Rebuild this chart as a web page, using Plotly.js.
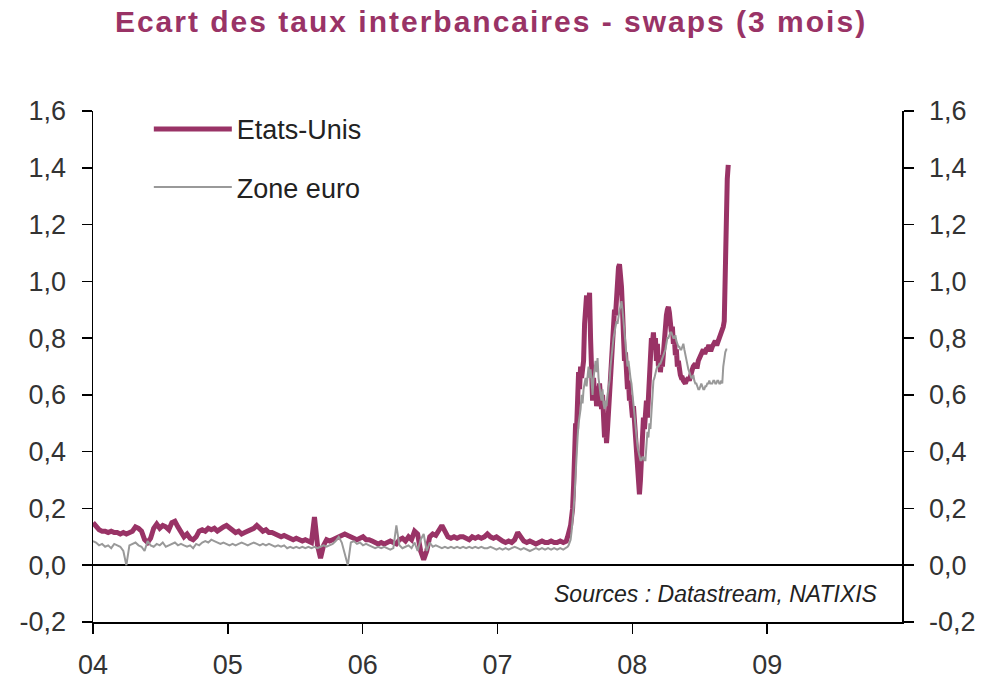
<!DOCTYPE html>
<html>
<head>
<meta charset="utf-8">
<script src="https://cdn.plot.ly/plotly-3.0.1.min.js"></script>
<style>html,body{margin:0;padding:0;background:#fff;}#chart{width:982px;height:686px;}
.gtitle{letter-spacing:2px;}</style>
</head>
<body>
<div id="chart"></div>
<script>
// Time index: weekly-ish sampling 2004 - mid-2007, then ~3-day sampling through the crisis
const segAStart = 2004.0, segAStep = 0.0225;
const segBStart = 2007.52, segBStep = 0.0074;

const xTickVals = [2004, 2005, 2006, 2007, 2008, 2009];
const xTickText = ['04', '05', '06', '07', '08', '09'];
const yTickVals = [-0.2, 0, 0.2, 0.4, 0.6, 0.8, 1.0, 1.2, 1.4, 1.6];
const yTickText = ['-0,2', '0,0', '0,2', '0,4', '0,6', '0,8', '1,0', '1,2', '1,4', '1,6'];

const seriesNames = ['Etats-Unis', 'Zone euro'];

// Etats-Unis, 2004.0 - 2007.51
const usA = [0.15,0.135,0.125,0.12,0.12,0.115,0.12,0.115,0.115,0.11,
0.115,0.11,0.115,0.12,0.135,0.13,0.12,0.09,0.08,0.095,
0.13,0.145,0.13,0.14,0.135,0.125,0.15,0.155,0.135,0.115,
0.10,0.11,0.095,0.09,0.10,0.12,0.125,0.12,0.13,0.125,
0.13,0.12,0.13,0.135,0.14,0.13,0.12,0.115,0.12,0.11,
0.115,0.12,0.125,0.13,0.14,0.13,0.12,0.125,0.115,0.115,
0.11,0.105,0.10,0.105,0.10,0.095,0.09,0.095,0.09,0.085,
0.09,0.085,0.08,0.17,0.07,0.025,0.07,0.09,0.085,0.09,
0.095,0.10,0.105,0.11,0.105,0.10,0.095,0.09,0.095,0.10,
0.09,0.09,0.085,0.08,0.075,0.08,0.075,0.08,0.085,0.08,
0.075,0.09,0.095,0.085,0.10,0.09,0.12,0.11,0.05,0.02,
0.05,0.10,0.11,0.105,0.125,0.14,0.12,0.10,0.095,0.10,
0.095,0.10,0.10,0.095,0.09,0.10,0.095,0.10,0.095,0.10,
0.11,0.10,0.095,0.10,0.09,0.085,0.08,0.085,0.08,0.09,
0.115,0.10,0.085,0.08,0.085,0.08,0.075,0.08,0.085,0.08,
0.08,0.085,0.08,0.08,0.085,0.08,0.085];

// Etats-Unis, 2007.52 onwards
const usB = [0.10,0.11,0.12,0.14,0.17,0.20,0.28,0.35,0.50,0.48,
0.55,0.68,0.62,0.70,0.66,0.69,0.72,0.85,0.93,0.95,
0.88,0.94,0.96,0.80,0.62,0.58,0.66,0.60,0.63,0.56,
0.62,0.60,0.64,0.58,0.55,0.60,0.52,0.45,0.50,0.43,
0.48,0.55,0.60,0.65,0.72,0.80,0.85,0.90,0.88,0.95,
1.02,1.05,1.06,1.03,0.98,0.90,0.78,0.72,0.75,0.68,
0.62,0.65,0.58,0.60,0.55,0.52,0.56,0.50,0.45,0.38,
0.32,0.28,0.25,0.30,0.36,0.45,0.52,0.48,0.55,0.58,
0.52,0.62,0.70,0.75,0.80,0.78,0.82,0.76,0.80,0.72,
0.78,0.70,0.74,0.68,0.72,0.70,0.76,0.80,0.84,0.88,
0.90,0.91,0.89,0.86,0.82,0.84,0.78,0.80,0.74,0.76,
0.70,0.72,0.68,0.67,0.66,0.66,0.65,0.64,0.64,0.65,
0.66,0.66,0.65,0.67,0.68,0.69,0.70,0.71,0.71,0.70,
0.70,0.72,0.73,0.74,0.74,0.75,0.76,0.75,0.75,0.76,
0.76,0.77,0.77,0.76,0.76,0.77,0.78,0.79,0.79,0.78,
0.78,0.79,0.80,0.80,0.81,0.82,0.84,0.86,1.10,1.30,
1.36,1.41];

// Zone euro, 2004.0 - 2007.51
const euroA = [0.085,0.08,0.07,0.075,0.065,0.07,0.06,0.075,0.07,0.065,
0.05,0.0,0.07,0.075,0.08,0.07,0.065,0.05,0.085,0.07,
0.065,0.075,0.07,0.08,0.065,0.07,0.075,0.08,0.07,0.075,
0.07,0.065,0.07,0.06,0.075,0.07,0.08,0.085,0.08,0.09,
0.085,0.08,0.075,0.08,0.075,0.07,0.075,0.07,0.075,0.08,
0.075,0.07,0.075,0.08,0.075,0.07,0.075,0.07,0.075,0.07,
0.065,0.07,0.065,0.07,0.06,0.065,0.06,0.065,0.06,0.065,
0.06,0.065,0.06,0.065,0.06,0.065,0.07,0.065,0.07,0.075,
0.085,0.10,0.08,0.04,0.0,0.08,0.085,0.075,0.08,0.07,
0.075,0.07,0.065,0.06,0.065,0.06,0.065,0.06,0.055,0.06,
0.14,0.07,0.06,0.065,0.07,0.06,0.08,0.05,0.09,0.11,
0.05,0.08,0.065,0.07,0.065,0.06,0.065,0.06,0.065,0.06,
0.065,0.06,0.065,0.06,0.065,0.06,0.065,0.06,0.065,0.06,
0.06,0.065,0.06,0.055,0.06,0.055,0.06,0.055,0.06,0.065,
0.06,0.055,0.06,0.055,0.05,0.055,0.06,0.055,0.06,0.055,
0.06,0.055,0.06,0.055,0.06,0.055,0.06];

// Zone euro, 2007.52 onwards
const euroB = [0.065,0.07,0.08,0.09,0.12,0.15,0.20,0.25,0.33,0.40,
0.45,0.50,0.52,0.55,0.60,0.57,0.62,0.64,0.66,0.63,
0.68,0.70,0.66,0.69,0.65,0.60,0.66,0.70,0.72,0.68,
0.73,0.66,0.62,0.60,0.58,0.62,0.57,0.55,0.58,0.56,
0.60,0.62,0.65,0.70,0.74,0.78,0.80,0.82,0.84,0.86,
0.85,0.88,0.90,0.91,0.93,0.90,0.86,0.82,0.78,0.74,
0.70,0.72,0.68,0.66,0.64,0.60,0.58,0.55,0.50,0.46,
0.42,0.40,0.38,0.37,0.37,0.38,0.38,0.37,0.37,0.42,
0.47,0.45,0.50,0.48,0.53,0.60,0.65,0.66,0.68,0.69,
0.70,0.70,0.71,0.71,0.72,0.73,0.74,0.75,0.76,0.78,
0.80,0.80,0.81,0.82,0.82,0.81,0.80,0.80,0.81,0.79,
0.78,0.77,0.77,0.76,0.76,0.77,0.78,0.76,0.74,0.72,
0.70,0.69,0.68,0.67,0.66,0.66,0.67,0.65,0.64,0.64,
0.63,0.62,0.62,0.63,0.64,0.63,0.62,0.62,0.63,0.63,
0.64,0.64,0.65,0.64,0.64,0.64,0.65,0.65,0.64,0.64,
0.65,0.65,0.64,0.64,0.65,0.64,0.70,0.74,0.75,0.76,
0.76];

function timeIndex(start, step, n) {
  const out = [];
  for (let i = 0; i < n; i++) out.push(+(start + step * i).toFixed(4));
  return out;
}
const usX = timeIndex(segAStart, segAStep, usA.length).concat(timeIndex(segBStart, segBStep, usB.length));
const euroX = timeIndex(segAStart, segAStep, euroA.length).concat(timeIndex(segBStart, segBStep, euroB.length));

const FONT = '"Liberation Sans", Arial, Helvetica, sans-serif';
const PLUM = '#993366';

const traces = [
  {x: usX, y: usA.concat(usB), name: seriesNames[0], type: 'scatter', mode: 'lines',
   line: {color: PLUM, width: 5}, legendgroup: 'us'},
  {x: euroX, y: euroA.concat(euroB), name: seriesNames[1], type: 'scatter', mode: 'lines',
   line: {color: '#999999', width: 2}, legendgroup: 'eu'},
  // carrier so that the mirrored right-hand axis is drawn (no visible mark)
  {x: [segAStart], y: [0], yaxis: 'y2', type: 'scatter', mode: 'lines', showlegend: false,
   hoverinfo: 'skip', line: {width: 0}}
];

const yAxisCommon = {
  range: [-0.2, 1.6], tickmode: 'array', tickvals: yTickVals, ticktext: yTickText,
  showline: true, linecolor: '#000', linewidth: 1.5, ticks: 'outside', ticklen: 10,
  tickwidth: 1.5, tickcolor: '#000', showgrid: false, zeroline: false,
  tickfont: {family: FONT, size: 27, color: '#333'}, ticklabelstandoff: 10, fixedrange: true
};

const layout = {
  width: 982, height: 686,
  margin: {l: 93, r: 80, t: 111, b: 64},
  paper_bgcolor: '#fff', plot_bgcolor: '#fff',
  font: {family: FONT, color: '#222'},
  title: {text: 'Ecart des taux interbancaires - swaps (3 mois)',
          font: {family: FONT, size: 30, color: PLUM, weight: 'bold'},
          xref: 'container', x: 0.5, xanchor: 'center', yref: 'container', y: 0.968, yanchor: 'middle'},
  xaxis: {range: [2004, 2010], tickmode: 'array', tickvals: xTickVals, ticktext: xTickText,
          showline: true, linecolor: '#000', linewidth: 1.5, ticks: 'outside', ticklen: 10,
          tickwidth: 1.5, tickcolor: '#000', showgrid: false, zeroline: false,
          tickfont: {family: FONT, size: 27, color: '#333'}, ticklabelstandoff: 8, fixedrange: true},
  yaxis: Object.assign({}, yAxisCommon, {side: 'left', zeroline: true, zerolinecolor: '#000', zerolinewidth: 1.8}),
  yaxis2: Object.assign({}, yAxisCommon, {side: 'right', overlaying: 'y', anchor: 'x'}),
  showlegend: true,
  legend: {x: 0.069, xanchor: 'left', y: 1.012, yanchor: 'top', bgcolor: 'rgba(0,0,0,0)',
           font: {family: FONT, size: 27, color: '#222'}, itemwidth: 78, traceorder: 'grouped',
           tracegroupgap: 20},
  annotations: [{text: '<i>Sources : Datastream, NATIXIS</i>', xref: 'paper', yref: 'paper',
                 x: 0.973, y: 0.055, xanchor: 'right', yanchor: 'middle', showarrow: false,
                 font: {family: FONT, size: 23, color: '#222'}}]
};

Plotly.newPlot('chart', traces, layout, {displayModeBar: false, staticPlot: true});
</script>
</body>
</html>
